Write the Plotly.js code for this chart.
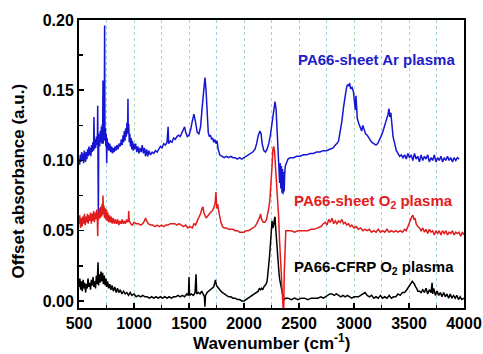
<!DOCTYPE html>
<html>
<head>
<meta charset="utf-8">
<script src="https://cdn.plot.ly/plotly-3.0.1.min.js"></script>
<style>html,body{margin:0;padding:0;background:#fff;}#chart{width:483px;height:354px;}</style>
</head>
<body>
<div id="chart"></div>
<script>
// PA66-sheet Ar plasma (blue)
const arWn = [500,506,512,518,524,530,536,542,548,554,560,566,572,578,584,590,596,602,608,614,620,626,632,636,640,646,652,658,664,668,670,673,676,679,683,688,693,698,703,708,712,715,718,721,725,729,733,736,740,744,748,752,756,760,765,772,780,788,796,804,812,820,828,836,845,855,865,875,885,893,900,906,912,918,924,930,936,942,945,948,952,957,962,968,974,980,986,992,998,1005,1015,1025,1035,1045,1055,1065,1075,1085,1095,1105,1115,1125,1135,1150,1165,1180,1195,1210,1225,1240,1255,1270,1285,1300,1310,1315,1330,1345,1360,1375,1390,1405,1420,1435,1450,1460,1470,1485,1500,1515,1530,1545,1560,1575,1590,1605,1620,1635,1645,1655,1665,1675,1685,1695,1705,1715,1725,1735,1745,1755,1765,1780,1800,1820,1840,1860,1880,1900,1920,1940,1960,1980,2000,2020,2040,2060,2080,2100,2115,2130,2145,2155,2165,2180,2195,2210,2225,2240,2255,2270,2282,2292,2300,2310,2318,2324,2330,2335,2340,2345,2350,2355,2360,2365,2370,2375,2385,2400,2420,2450,2480,2510,2540,2570,2600,2630,2660,2690,2720,2750,2780,2810,2830,2845,2860,2875,2890,2905,2918,2930,2940,2950,2960,2970,2982,2995,3005,3012,3018,3030,3045,3060,3070,3080,3090,3105,3120,3140,3160,3180,3200,3215,3230,3245,3260,3275,3290,3300,3310,3318,3325,3335,3345,3355,3370,3385,3400,3415,3430,3445,3460,3475,3490,3505,3520,3535,3550,3565,3580,3595,3610,3625,3640,3655,3670,3685,3700,3715,3730,3745,3760,3775,3790,3805,3820,3835,3850,3865,3880,3895,3910,3925,3940,3955,3970,3985,4000];
const arAbs = [0.101,0.097,0.104,0.099,0.106,0.100,0.105,0.098,0.107,0.102,0.099,0.106,0.101,0.108,0.103,0.110,0.104,0.109,0.103,0.111,0.106,0.113,0.107,0.131,0.108,0.115,0.109,0.117,0.111,0.120,0.139,0.095,0.060,0.112,0.119,0.110,0.121,0.113,0.124,0.112,0.126,0.116,0.157,0.112,0.122,0.114,0.196,0.115,0.123,0.110,0.119,0.098,0.116,0.108,0.113,0.107,0.112,0.106,0.110,0.105,0.109,0.106,0.110,0.107,0.111,0.108,0.112,0.110,0.115,0.111,0.118,0.113,0.121,0.114,0.123,0.117,0.127,0.119,0.144,0.120,0.126,0.113,0.119,0.110,0.116,0.108,0.114,0.107,0.112,0.108,0.112,0.106,0.110,0.105,0.109,0.106,0.111,0.105,0.109,0.103,0.108,0.103,0.107,0.104,0.106,0.105,0.107,0.106,0.108,0.110,0.109,0.112,0.111,0.113,0.124,0.112,0.114,0.113,0.116,0.115,0.117,0.118,0.117,0.120,0.122,0.124,0.120,0.117,0.118,0.122,0.128,0.133,0.127,0.120,0.119,0.124,0.138,0.153,0.159,0.150,0.132,0.120,0.117,0.118,0.115,0.116,0.113,0.115,0.112,0.114,0.108,0.104,0.103,0.102,0.103,0.102,0.103,0.102,0.102,0.101,0.102,0.101,0.102,0.103,0.104,0.105,0.106,0.108,0.112,0.118,0.121,0.119,0.112,0.107,0.106,0.108,0.112,0.118,0.127,0.137,0.142,0.136,0.125,0.112,0.100,0.084,0.098,0.080,0.096,0.077,0.094,0.076,0.092,0.078,0.090,0.096,0.098,0.101,0.102,0.102,0.103,0.103,0.104,0.104,0.105,0.105,0.106,0.106,0.107,0.107,0.108,0.109,0.111,0.112,0.114,0.120,0.128,0.138,0.146,0.151,0.154,0.153,0.155,0.151,0.152,0.149,0.141,0.136,0.146,0.130,0.126,0.122,0.121,0.125,0.123,0.119,0.118,0.115,0.113,0.112,0.111,0.112,0.114,0.117,0.120,0.124,0.127,0.130,0.133,0.137,0.131,0.134,0.125,0.117,0.112,0.107,0.105,0.103,0.104,0.102,0.104,0.101,0.105,0.102,0.104,0.100,0.105,0.101,0.103,0.099,0.104,0.100,0.103,0.101,0.104,0.099,0.102,0.100,0.104,0.099,0.102,0.100,0.103,0.099,0.102,0.100,0.103,0.100,0.102,0.099,0.102,0.100,0.102,0.101];

// PA66-sheet O2 plasma (red)
const o2Wn = [500,507,514,521,528,535,542,549,556,563,570,577,584,591,598,605,612,619,626,633,640,647,654,661,667,670,674,680,686,692,698,704,710,714,718,722,727,732,738,744,750,756,762,770,778,786,794,802,812,822,832,842,852,862,872,882,892,902,912,922,932,942,948,952,956,962,970,985,1000,1020,1040,1060,1080,1095,1105,1115,1130,1150,1170,1190,1210,1230,1250,1270,1290,1310,1330,1350,1370,1390,1410,1430,1450,1470,1490,1510,1530,1545,1560,1575,1590,1605,1618,1627,1635,1645,1655,1665,1680,1695,1710,1725,1738,1745,1752,1760,1770,1780,1790,1805,1820,1840,1860,1880,1900,1920,1940,1960,1980,2000,2020,2040,2060,2080,2100,2115,2130,2145,2150,2160,2175,2190,2205,2215,2225,2235,2245,2255,2263,2270,2278,2285,2292,2300,2308,2315,2322,2330,2338,2345,2352,2360,2366,2372,2380,2400,2430,2460,2490,2520,2550,2580,2610,2640,2670,2700,2720,2740,2755,2770,2785,2800,2815,2830,2845,2860,2875,2890,2905,2920,2935,2950,2965,2980,3000,3020,3040,3060,3080,3100,3120,3140,3160,3180,3200,3220,3240,3260,3280,3300,3320,3340,3360,3380,3400,3420,3440,3460,3475,3490,3505,3515,3525,3535,3545,3555,3565,3580,3595,3610,3625,3640,3655,3670,3685,3700,3715,3730,3745,3760,3775,3790,3805,3820,3835,3850,3865,3880,3895,3910,3925,3940,3955,3970,3985,4000];
const o2Abs = [0.055,0.061,0.052,0.059,0.053,0.060,0.055,0.062,0.054,0.060,0.056,0.062,0.055,0.061,0.057,0.063,0.055,0.062,0.057,0.064,0.056,0.063,0.058,0.065,0.057,0.046,0.063,0.058,0.066,0.059,0.067,0.060,0.069,0.061,0.075,0.062,0.068,0.059,0.066,0.058,0.065,0.057,0.063,0.056,0.061,0.056,0.060,0.055,0.059,0.055,0.058,0.055,0.058,0.054,0.057,0.055,0.058,0.055,0.057,0.055,0.058,0.056,0.057,0.064,0.057,0.056,0.055,0.054,0.056,0.055,0.055,0.054,0.055,0.057,0.059,0.057,0.055,0.054,0.054,0.053,0.054,0.053,0.054,0.053,0.054,0.054,0.055,0.055,0.055,0.054,0.055,0.054,0.053,0.054,0.052,0.053,0.052,0.055,0.054,0.057,0.059,0.062,0.066,0.067,0.063,0.060,0.059,0.060,0.062,0.063,0.064,0.066,0.070,0.0775,0.066,0.069,0.064,0.060,0.056,0.053,0.052,0.052,0.051,0.051,0.051,0.050,0.050,0.049,0.049,0.049,0.050,0.050,0.051,0.052,0.053,0.055,0.057,0.060,0.062,0.058,0.056,0.056,0.058,0.061,0.066,0.072,0.082,0.096,0.108,0.110,0.106,0.098,0.090,0.080,0.070,0.060,0.045,0.030,0.015,0.005,-0.004,-0.012,0.020,0.045,0.050,0.050,0.050,0.049,0.050,0.050,0.050,0.050,0.051,0.051,0.052,0.053,0.055,0.056,0.054,0.058,0.056,0.059,0.055,0.057,0.055,0.057,0.056,0.058,0.055,0.056,0.054,0.055,0.053,0.054,0.052,0.053,0.051,0.052,0.050,0.051,0.050,0.051,0.049,0.050,0.049,0.051,0.049,0.050,0.049,0.051,0.049,0.050,0.049,0.050,0.049,0.050,0.049,0.051,0.050,0.053,0.057,0.059,0.060,0.061,0.058,0.059,0.055,0.053,0.052,0.050,0.052,0.049,0.051,0.048,0.051,0.049,0.050,0.047,0.050,0.048,0.050,0.047,0.050,0.048,0.050,0.047,0.049,0.048,0.050,0.047,0.049,0.048,0.049,0.046,0.049,0.047,0.048];

// PA66-CFRP O2 plasma (black)
const cfWn = [500,508,515,522,530,538,545,552,560,568,575,582,590,598,605,612,620,628,635,642,650,658,665,673,678,685,692,700,708,715,722,730,738,745,752,760,770,780,790,800,812,825,838,850,862,875,890,905,920,935,950,965,980,1000,1020,1040,1060,1080,1100,1120,1140,1160,1180,1200,1220,1240,1260,1280,1300,1320,1340,1360,1380,1400,1420,1440,1460,1480,1495,1500,1505,1520,1540,1555,1564,1570,1585,1600,1615,1630,1640,1645,1650,1665,1680,1695,1710,1725,1740,1750,1760,1775,1790,1805,1820,1840,1860,1880,1900,1920,1940,1960,1980,2000,2020,2040,2060,2080,2100,2115,2130,2140,2150,2160,2170,2180,2190,2200,2210,2220,2230,2240,2248,2255,2262,2270,2276,2282,2288,2294,2300,2306,2312,2318,2325,2332,2340,2348,2356,2365,2380,2400,2430,2460,2490,2520,2550,2580,2610,2640,2670,2700,2720,2740,2760,2780,2800,2820,2840,2860,2880,2900,2920,2940,2960,2980,3000,3020,3040,3060,3080,3100,3120,3140,3160,3180,3200,3220,3240,3260,3280,3300,3320,3340,3360,3380,3400,3420,3440,3460,3480,3495,3510,3520,3530,3540,3550,3560,3570,3580,3595,3610,3625,3640,3655,3670,3685,3700,3710,3715,3725,3740,3755,3770,3785,3800,3815,3830,3845,3860,3875,3890,3905,3920,3935,3950,3965,3980,4000];
const cfAbs = [0.010,0.016,0.008,0.014,0.007,0.015,0.009,0.013,0.006,0.012,0.009,0.016,0.010,0.013,0.008,0.015,0.011,0.017,0.010,0.014,0.009,0.018,0.012,0.0275,0.011,0.019,0.013,0.021,0.014,0.020,0.012,0.018,0.011,0.016,0.010,0.014,0.009,0.012,0.008,0.011,0.007,0.010,0.006,0.009,0.006,0.008,0.005,0.007,0.005,0.006,0.004,0.006,0.004,0.005,0.003,0.004,0.003,0.004,0.003,0.003,0.002,0.003,0.002,0.003,0.002,0.003,0.002,0.003,0.002,0.003,0.002,0.003,0.003,0.004,0.003,0.004,0.003,0.005,0.004,0.017,0.004,0.005,0.004,0.006,0.019,0.005,0.006,0.005,0.007,0.005,0.003,-0.004,0.004,0.006,0.007,0.008,0.009,0.010,0.015,0.011,0.010,0.008,0.007,0.006,0.005,0.004,0.003,0.003,0.002,0.002,0.001,0.001,0.000,0.000,0.001,0.002,0.003,0.004,0.005,0.006,0.007,0.009,0.008,0.009,0.008,0.010,0.011,0.012,0.014,0.020,0.030,0.040,0.050,0.057,0.052,0.054,0.058,0.060,0.052,0.045,0.036,0.030,0.024,0.020,0.015,0.012,0.008,0.005,0.003,0.001,0.002,0.002,0.001,0.002,0.001,0.002,0.002,0.001,0.002,0.002,0.002,0.003,0.002,0.003,0.004,0.005,0.005,0.004,0.005,0.004,0.003,0.004,0.003,0.004,0.003,0.002,0.003,0.003,0.003,0.004,0.005,0.006,0.004,0.003,0.004,0.002,0.003,0.002,0.004,0.002,0.003,0.002,0.004,0.002,0.003,0.003,0.005,0.004,0.006,0.006,0.008,0.010,0.012,0.013,0.014,0.013,0.012,0.010,0.009,0.007,0.007,0.006,0.008,0.006,0.009,0.005,0.008,0.006,0.013,0.005,0.009,0.004,0.007,0.004,0.006,0.003,0.006,0.003,0.005,0.002,0.005,0.002,0.004,0.002,0.004,0.001,0.003,0.001,0.002];

const seriesNames = ["PA66-sheet Ar plasma", "PA66-sheet O<sub>2</sub> plasma", "PA66-CFRP O<sub>2</sub> plasma"];
const seriesColors = ["#1515d2", "#e21c1c", "#000000"];
const xTickVals = [500,1000,1500,2000,2500,3000,3500,4000];
const yTickVals = [0.00,0.05,0.10,0.15,0.20];

const font = "Liberation Sans, Arial, sans-serif";

const traces = [
  {x: arWn, y: arAbs, name: seriesNames[0], type: "scatter", mode: "lines", line: {color: seriesColors[0], width: 1.5}},
  {x: cfWn, y: cfAbs, name: seriesNames[2], type: "scatter", mode: "lines", line: {color: seriesColors[2], width: 1.5}},
  {x: o2Wn, y: o2Abs, name: seriesNames[1], type: "scatter", mode: "lines", line: {color: seriesColors[1], width: 1.5}}
];

const layout = {
  width: 483, height: 354,
  margin: {l: 79, r: 19, t: 20, b: 46},
  paper_bgcolor: "#fff", plot_bgcolor: "#fff",
  showlegend: false,
  font: {family: font, color: "#000"},
  xaxis: {
    range: [500, 4000], tickvals: xTickVals, ticktext: xTickVals.map(String),
    ticks: "inside", ticklen: 5, tickwidth: 1.5, tickcolor: "#000",
    showline: true, linecolor: "#000", linewidth: 2, mirror: true,
    showgrid: true, gridcolor: "#a6dcb2", griddash: "dot", gridwidth: 1,
    zeroline: false,
    tickfont: {family: font, size: 16, color: "#000", weight: "bold"},
    minor: {dtick: 250, tick0: 0, ticks: "inside", ticklen: 3, tickcolor: "#000", showgrid: true, gridcolor: "#9fd3e2", griddash: "dot", gridwidth: 1}
  },
  yaxis: {
    range: [-0.005, 0.20], tickvals: yTickVals, ticktext: yTickVals.map(v => v.toFixed(2)),
    ticks: "inside", ticklen: 5, tickwidth: 1.5, tickcolor: "#000",
    showline: true, linecolor: "#000", linewidth: 2, mirror: true,
    showgrid: false, zeroline: false,
    tickfont: {family: font, size: 16, color: "#000", weight: "bold"},
    minor: {dtick: 0.025, tick0: 0, ticks: "inside", ticklen: 4, tickcolor: "#000", showgrid: false}
  },
  annotations: [
    {xref: "paper", yref: "paper", x: 0.5, y: -0.119, xanchor: "center", yanchor: "middle", showarrow: false,
     text: "Wavenumber (cm<sup>-1</sup>)", font: {family: font, size: 17, color: "#000", weight: "bold"}},
    {xref: "paper", yref: "paper", x: -0.157, y: 0.441, xanchor: "center", yanchor: "middle", textangle: -90, showarrow: false,
     text: "Offset absorbance (a.u.)", font: {family: font, size: 17, color: "#000", weight: "bold"}},
    {xref: "x", yref: "y", x: 3200, y: 0.172, xanchor: "center", yanchor: "middle", showarrow: false,
     text: seriesNames[0], font: {family: font, size: 15, color: "#2020c8", weight: "bold"}},
    {xref: "x", yref: "y", x: 3177, y: 0.0705, xanchor: "center", yanchor: "middle", showarrow: false,
     text: seriesNames[1], font: {family: font, size: 15, color: "#e02020", weight: "bold"}},
    {xref: "x", yref: "y", x: 3186, y: 0.0235, xanchor: "center", yanchor: "middle", showarrow: false,
     text: seriesNames[2], font: {family: font, size: 15, color: "#000", weight: "bold"}}
  ]
};

Plotly.newPlot("chart", traces, layout, {staticPlot: true, displayModeBar: false});
</script>
</body>
</html>
